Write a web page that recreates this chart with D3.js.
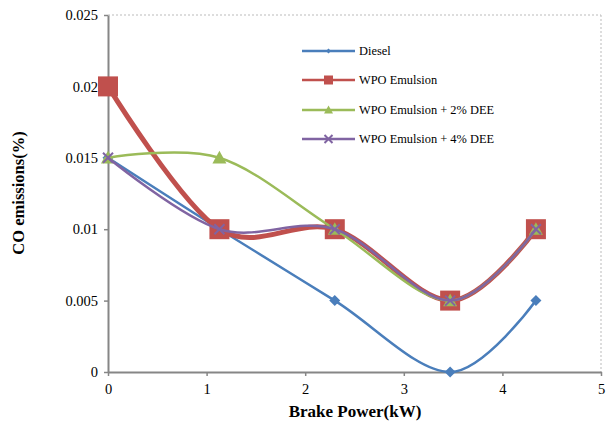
<!DOCTYPE html>
<html><head><meta charset="utf-8">
<script src="https://cdn.jsdelivr.net/npm/d3@7"></script>
<style>body{margin:0;background:#fff}svg{display:block}</style>
</head><body><svg id="c" width="610" height="424" font-family="'Liberation Serif', 'Times New Roman', Times, serif"></svg>
<script>
const xVals = [0, 1.13, 2.3, 3.47, 4.34];
const diesel = [0.015, 0.01, 0.005, 0, 0.005];
const wpo = [0.02, 0.01, 0.01, 0.005, 0.01];
const wpo2 = [0.015, 0.015, 0.01, 0.005, 0.01];
const wpo4 = [0.015, 0.01, 0.01, 0.005, 0.01];
const seriesNames = ["Diesel", "WPO Emulsion", "WPO Emulsion + 2% DEE", "WPO Emulsion + 4% DEE"];
const xTicks = [0, 1, 2, 3, 4, 5];
const yTicks = [0, 0.005, 0.01, 0.015, 0.02, 0.025];

const FONT = "'Liberation Serif', 'Times New Roman', Times, serif";
const svg = d3.select("#c");
const x = d3.scaleLinear().domain([0, 5]).range([108, 601]);
const y = d3.scaleLinear().domain([0, 0.025]).range([372, 15]);

svg.append("line").attr("x1", x(0)).attr("x2", x(5)).attr("y1", y(0.025)).attr("y2", y(0.025))
  .attr("stroke", "#bbb").attr("stroke-dasharray", "2,2");
svg.append("line").attr("x1", x(5)).attr("x2", x(5)).attr("y1", y(0.025)).attr("y2", y(0))
  .attr("stroke", "#bbb").attr("stroke-dasharray", "2,2");

const gx = svg.append("g").attr("transform", `translate(0,${y(0)})`)
  .call(d3.axisBottom(x).tickValues(xTicks).tickFormat(d3.format("d")).tickSize(4).tickSizeOuter(0));
const gy = svg.append("g").attr("transform", `translate(${x(0)},0)`)
  .call(d3.axisLeft(y).tickValues(yTicks).tickFormat(d => d === 0 ? "0" : String(+d.toFixed(3))).tickSize(4).tickSizeOuter(0));
[gx, gy].forEach(g => {
  g.attr("font-family", FONT).attr("font-size", 14.5);
  g.select(".domain").attr("stroke", "#868686").attr("stroke-width", 2);
  g.selectAll(".tick line").attr("stroke", "#868686").attr("stroke-width", 1.5);
  g.selectAll("text").attr("fill", "#000").attr("font-family", FONT).attr("font-size", 14.5);
});
gx.selectAll("text").attr("dy", "1.0em");
gy.selectAll("text").attr("dx", "-0.2em");

svg.append("text").attr("x", 355).attr("y", 417).attr("text-anchor", "middle").attr("font-family", FONT)
  .attr("font-size", 17).attr("font-weight", "bold").text("Brake Power(kW)");
svg.append("text").attr("transform", "translate(24,193) rotate(-90)").attr("text-anchor", "middle").attr("font-family", FONT)
  .attr("font-size", 16.5).attr("font-weight", "bold").text("CO emissions(%)");

const series = [
  {vals: diesel, color: "#4a7ebb", width: 2.5, marker: "diamond", size: 11},
  {vals: wpo, color: "#c0504d", width: 5, marker: "square", size: 20},
  {vals: wpo2, color: "#9bbb59", width: 2.5, marker: "triangle", size: 14},
  {vals: wpo4, color: "#8064a2", width: 2.5, marker: "x", size: 10}
];
const line = d3.line().x((d, i) => x(xVals[i])).y(d => y(d)).curve(d3.curveCatmullRom.alpha(0));

function drawMarker(g, type, cx, cy, s, color) {
  if (type === "square") {
    g.append("rect").attr("x", cx - s/2).attr("y", cy - s/2).attr("width", s).attr("height", s).attr("fill", color);
  } else if (type === "diamond") {
    const h = s/2;
    g.append("path").attr("d", `M${cx},${cy-h}L${cx+h},${cy}L${cx},${cy+h}L${cx-h},${cy}Z`).attr("fill", color);
  } else if (type === "triangle") {
    const h = s/2;
    g.append("path").attr("d", `M${cx},${cy-h}L${cx+h},${cy+h*0.8}L${cx-h},${cy+h*0.8}Z`).attr("fill", color);
  } else if (type === "x") {
    const h = s/2;
    g.append("path").attr("d", `M${cx-h},${cy-h}L${cx+h},${cy+h}M${cx-h},${cy+h}L${cx+h},${cy-h}`)
      .attr("stroke", color).attr("stroke-width", 2);
  }
}

series.forEach(s => {
  const g = svg.append("g");
  g.append("path").attr("d", line(s.vals)).attr("fill", "none").attr("stroke", s.color).attr("stroke-width", s.width);
  s.vals.forEach((v, i) => drawMarker(g, s.marker, x(xVals[i]), y(v), s.size, s.color));
});

const legY = [51, 80, 110, 139];
const legSizes = [5, 9, 9, 8];
series.forEach((s, i) => {
  const g = svg.append("g");
  g.append("line").attr("x1", 302).attr("x2", 355).attr("y1", legY[i]).attr("y2", legY[i])
    .attr("stroke", s.color).attr("stroke-width", 2.5);
  drawMarker(g, s.marker, 328.5, legY[i], legSizes[i], s.color);
  g.append("text").attr("x", 359).attr("y", legY[i] + 4).attr("font-family", FONT).attr("font-size", 12.4).text(seriesNames[i]);
});
</script></body></html>
